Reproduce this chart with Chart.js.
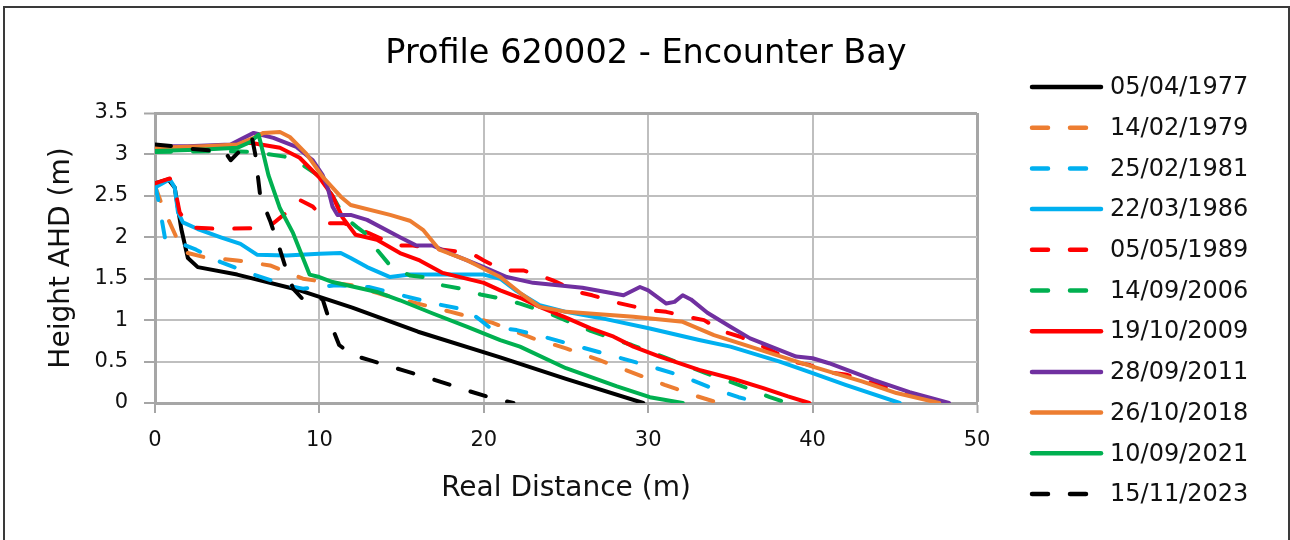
<!DOCTYPE html>
<html>
<head>
<meta charset="utf-8">
<script src="https://cdn.jsdelivr.net/npm/chart.js@4.4.0/dist/chart.umd.min.js"></script>
<style>
    html, body { margin: 0; padding: 0; background: #fff; }
    #wrap { width: 1290px; height: 540px; position: relative; }
</style>
</head>
<body>
<div id="wrap"><canvas id="profileChart" width="1290" height="540"></canvas></div>
<script>
// Survey dates, one per profile line
const surveyDates = ['05/04/1977', '14/02/1979', '25/02/1981', '22/03/1986', '05/05/1989',
    '14/09/2006', '19/10/2009', '28/09/2011', '26/10/2018', '10/09/2021', '15/11/2023'];

// [distance (m), height AHD (m)] pairs for each survey
const p1977 = [[0,2.65],[0.8,2.7],[1.2,2.6],[1.6,2.1],[2.0,1.75],[2.6,1.64],[5,1.55],[8.8,1.36],[12,1.15],[16,0.86],[21,0.55],[25,0.29],[29.7,0]];
const p1979 = [[0,2.62],[0.5,2.35],[1.3,2.0],[1.8,1.82],[3,1.76],[5,1.72],[7,1.66],[9,1.5],[10,1.47],[12,1.42],[14,1.3],[16,1.2],[18,1.1],[20.5,0.97],[23,0.78],[25,0.66],[27,0.52],[29,0.37],[31,0.22],[33,0.08],[34.3,0]];
const p1981 = [[0,2.64],[0.2,2.45],[0.6,2.0],[1.5,1.93],[2.5,1.85],[4,1.7],[6,1.55],[8,1.42],[9,1.38],[11,1.42],[13,1.4],[15,1.3],[17,1.2],[19,1.12],[19.8,1.0],[20.3,0.92],[22,0.88],[24,0.78],[26,0.67],[28,0.56],[30,0.45],[32,0.33],[34,0.17],[35.5,0.07],[36.8,0]];
const p1986 = [[0,2.6],[0.9,2.7],[1.2,2.6],[1.4,2.3],[1.7,2.18],[2.6,2.1],[4,2.0],[5.2,1.92],[6.2,1.79],[8,1.78],[10,1.8],[11.3,1.81],[11.9,1.75],[12.9,1.64],[14.3,1.52],[15.5,1.55],[18,1.55],[20,1.55],[21,1.5],[22,1.35],[23.4,1.18],[25,1.1],[27,1.03],[30.1,0.9],[33.1,0.76],[35,0.68],[38,0.5],[40,0.36],[42,0.22],[45.3,0]];
const p1989 = [[0,2.65],[0.9,2.71],[1.2,2.6],[1.5,2.3],[2.1,2.12],[4,2.1],[5.8,2.11],[7.2,2.17],[8,2.3],[8.8,2.45],[9.6,2.37],[10.5,2.17],[11.5,2.17],[13,2.05],[14.7,1.9],[15.7,1.9],[17.5,1.85],[19.2,1.81],[20,1.72],[21.2,1.6],[22.4,1.6],[23.4,1.54],[24.2,1.48],[25.7,1.34],[26.6,1.3],[27.9,1.22],[30.1,1.12],[31.1,1.1],[32.4,1.04],[33.4,1.0],[34.6,0.86],[35.6,0.8],[37,0.68],[39,0.49],[39.8,0.46],[41,0.37],[42.1,0.34],[44,0.22],[46,0.1],[47.8,0]];
const p2006 = [[0,3.03],[4,3.04],[6,3.03],[8,2.97],[9,2.87],[9.9,2.75],[10.8,2.5],[11.5,2.25],[12.3,2.12],[12.9,2.03],[13.5,1.85],[14.3,1.66],[15.5,1.54],[16.3,1.52],[17.5,1.42],[18.6,1.38],[19.8,1.31],[20.8,1.27],[22.2,1.2],[24,1.08],[26.5,0.87],[27.5,0.8],[29,0.7],[31,0.55],[33.5,0.36],[35.5,0.22],[37.4,0.07],[38.5,0]];
const p2009 = [[0,3.08],[4,3.1],[5.8,3.14],[7.6,3.08],[8.8,2.96],[10,2.72],[10.8,2.5],[11.4,2.24],[12.2,2.03],[13.5,1.97],[14.9,1.81],[16.1,1.72],[17.5,1.57],[20,1.45],[21,1.36],[22.2,1.27],[23.4,1.16],[25,1.03],[26.5,0.9],[27.9,0.8],[29.1,0.68],[30.7,0.56],[33.1,0.4],[35.2,0.29],[37,0.18],[38.5,0.08],[39.8,0]];
const p2011 = [[0,3.1],[2,3.1],[4.6,3.12],[5.4,3.2],[6,3.26],[6.4,3.24],[7.2,3.2],[8.6,3.09],[9.6,2.93],[10.2,2.75],[10.5,2.6],[10.8,2.37],[11.1,2.27],[11.9,2.27],[12.9,2.21],[14.9,2.0],[15.9,1.9],[16.9,1.9],[17.9,1.81],[20,1.64],[21.4,1.52],[23,1.45],[26,1.39],[28.5,1.3],[29.5,1.4],[30,1.36],[31.1,1.2],[31.6,1.22],[32.1,1.3],[32.6,1.25],[33.6,1.09],[35,0.92],[36.2,0.78],[39,0.56],[40,0.54],[41,0.48],[43.7,0.28],[45.9,0.13],[48.3,0]];
const p2018 = [[0,3.08],[3,3.1],[5,3.12],[6,3.2],[6.6,3.26],[7.6,3.27],[8.2,3.21],[9.2,3.01],[10.2,2.73],[11.3,2.49],[11.9,2.39],[14.3,2.27],[15.5,2.2],[16.3,2.09],[17.3,1.85],[19,1.72],[21,1.52],[22.2,1.33],[23.4,1.16],[25,1.1],[29.1,1.04],[32.1,0.98],[34,0.82],[36.2,0.68],[40,0.44],[43,0.26],[45.1,0.12],[47.7,0]];
const p2021 = [[0,3.04],[3,3.06],[5,3.08],[5.8,3.15],[6.3,3.24],[6.6,3.0],[6.9,2.75],[7.6,2.35],[8.4,2.05],[9,1.75],[9.4,1.55],[10,1.52],[10.8,1.46],[13.5,1.34],[14.9,1.24],[16.9,1.08],[19,0.92],[21,0.76],[22.2,0.68],[25,0.42],[28.1,0.2],[30.1,0.07],[32.1,0]];
const p2023 = [[0,3.12],[1,3.1],[2,3.07],[3.3,3.05],[4.2,3.05],[4.6,2.93],[5.2,3.05],[5.9,3.2],[6.1,3.0],[6.4,2.5],[7,2.2],[7.6,1.85],[8,1.6],[8.4,1.38],[9,1.25],[9.6,1.3],[10.2,1.25],[10.6,1.0],[11.2,0.7],[12,0.58],[13,0.52],[15,0.4],[17,0.28],[19,0.15],[20.5,0.06],[21.8,0]];

const profiles = [p1977, p1979, p1981, p1986, p1989, p2006, p2009, p2011, p2018, p2021, p2023];

// line look per survey: colour and whether it is dashed
const lineColors = ['#000000', '#ED7D31', '#00B0F0', '#00B0F0', '#FF0000', '#00B050', '#FF0000', '#7030A0', '#ED7D31', '#00B050', '#000000'];
const dashed = [false, true, true, false, true, true, false, false, false, false, true];

const FONT = "'DejaVu Sans', sans-serif";
const DASH = [16, 22];
const GRID = '#bfbfbf';
const AXIS = '#a6a6a6';

const datasets = profiles.map((pts, i) => ({
    label: surveyDates[i],
    data: pts.map(([x, y]) => ({ x, y })),
    borderColor: lineColors[i],
    backgroundColor: lineColors[i],
    borderWidth: 4,
    borderDash: dashed[i] ? DASH : [],
    borderCapStyle: 'round',
    borderJoinStyle: 'round',
    pointRadius: 0,
    showLine: true,
    fill: false,
    tension: 0,
    order: profiles.length - i   // later surveys on top
}));

// outer frame, title and legend
const decorations = {
    id: 'decorations',
    beforeDraw(chart) {
        const ctx = chart.ctx;
        ctx.save();
        ctx.fillStyle = '#fff';
        ctx.fillRect(0, 0, chart.width, chart.height);
        ctx.restore();
    },
    afterDraw(chart) {
        const ctx = chart.ctx;
        ctx.save();
        ctx.strokeStyle = '#3a3a3a';
        ctx.lineWidth = 2;
        ctx.strokeRect(4, 7, 1285, 560);

        ctx.fillStyle = '#000';
        ctx.font = `33.5px ${FONT}`;
        ctx.textAlign = 'center';
        ctx.textBaseline = 'alphabetic';
        ctx.fillText('Profile 620002 - Encounter Bay', 646, 63);

        ctx.font = `24px ${FONT}`;
        ctx.textAlign = 'left';
        ctx.textBaseline = 'middle';
        chart.data.datasets.forEach((ds, i) => {
            const y = 87 + i * 40.7;
            ctx.strokeStyle = ds.borderColor;
            ctx.lineWidth = 4.5;
            ctx.lineCap = 'round';
            ctx.setLineDash(ds.borderDash);
            ctx.beginPath();
            ctx.moveTo(1032, y);
            ctx.lineTo(1101, y);
            ctx.stroke();
            ctx.setLineDash([]);
            ctx.fillStyle = '#111';
            ctx.fillText(ds.label, 1110, y + 1);
        });
        ctx.restore();
    }
};

new Chart(document.getElementById('profileChart').getContext('2d'), {
    type: 'scatter',
    data: { datasets },
    options: {
        responsive: false,
        animation: false,
        devicePixelRatio: 1,
        layout: { padding: { top: 113, right: 313, bottom: 0, left: 0 } },
        plugins: {
            legend: { display: false },
            title: { display: false },
            tooltip: { enabled: false }
        },
        scales: {
            x: {
                type: 'linear',
                min: 0,
                max: 50,
                afterFit: (s) => { s.height = 137; },
                ticks: { stepSize: 10, color: '#111', font: { family: FONT, size: 21 }, padding: 15 },
                grid: {
                    color: (c) => (c.tick && c.tick.value === 50 ? AXIS : GRID),
                    lineWidth: (c) => (c.tick && c.tick.value === 50 ? 3 : 2),
                    tickLength: 10,
                    tickColor: AXIS,
                    tickWidth: 2
                },
                border: { display: true, color: AXIS, width: 3 },
                title: {
                    display: true,
                    text: 'Real Distance (m)',
                    color: '#111',
                    font: { family: FONT, size: 28 },
                    padding: { top: 0, bottom: 34 }
                }
            },
            y: {
                type: 'linear',
                min: 0,
                max: 3.5,
                afterFit: (s) => { s.width = 155; },
                ticks: {
                    stepSize: 0.5,
                    color: '#111',
                    font: { family: FONT, size: 21 },
                    padding: 16,
                    callback: (v) => String(v)
                },
                grid: {
                    color: (c) => (c.tick && c.tick.value === 3.5 ? AXIS : GRID),
                    lineWidth: (c) => (c.tick && c.tick.value === 3.5 ? 3 : 2),
                    tickLength: 11,
                    tickColor: AXIS,
                    tickWidth: 2
                },
                border: { display: true, color: AXIS, width: 3 },
                title: {
                    display: true,
                    text: 'Height AHD (m)',
                    color: '#111',
                    font: { family: FONT, size: 28 },
                    padding: { top: 45, bottom: 0 }
                }
            }
        }
    },
    plugins: [decorations]
});
</script>
</body>
</html>
